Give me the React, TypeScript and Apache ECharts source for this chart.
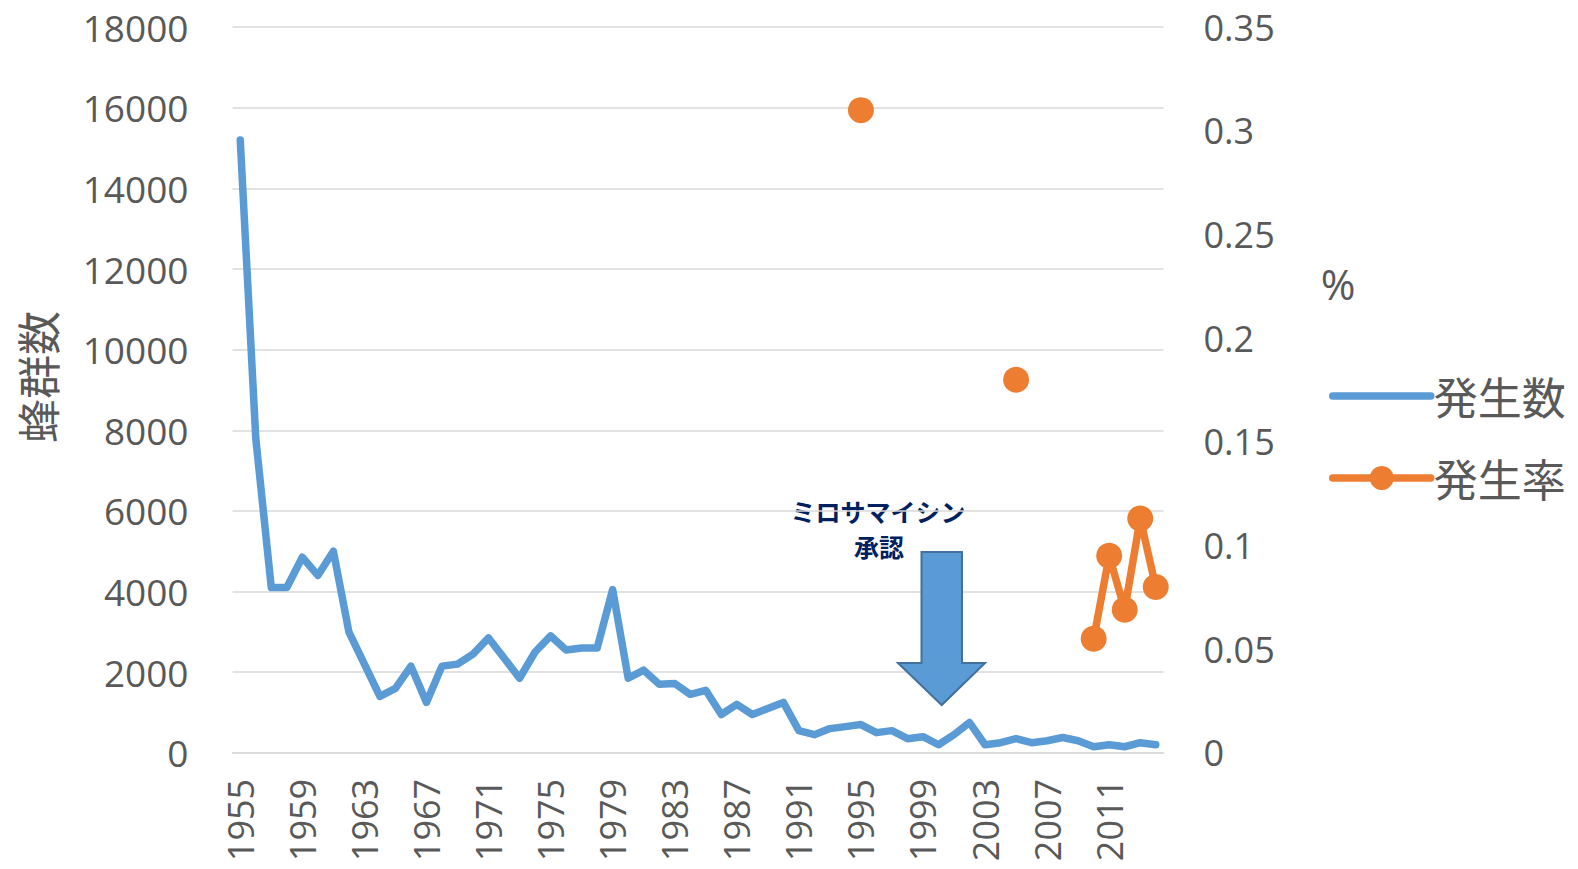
import React, { useEffect, useRef } from "react";
import * as echarts from "echarts";

const years: string[] = [
  "1955","1956","1957","1958","1959","1960","1961","1962","1963","1964",
  "1965","1966","1967","1968","1969","1970","1971","1972","1973","1974",
  "1975","1976","1977","1978","1979","1980","1981","1982","1983","1984",
  "1985","1986","1987","1988","1989","1990","1991","1992","1993","1994",
  "1995","1996","1997","1998","1999","2000","2001","2002","2003","2004",
  "2005","2006","2007","2008","2009","2010","2011","2012","2013","2014",
];

const occurrenceCount: number[] = [
  15200, 7800, 4100, 4100, 4850, 4400, 5000, 3000, 2200, 1400,
  1600, 2150, 1250, 2150, 2200, 2450, 2850, 2350, 1850, 2500,
  2900, 2550, 2600, 2600, 4050, 1850, 2050, 1700, 1720, 1450,
  1550, 950, 1200, 950, 1100, 1250, 550, 450, 600, 650,
  700, 500, 550, 350, 400, 200, 450, 750, 200, 250,
  350, 250, 300, 380, 300, 150, 200, 150, 250, 200,
];

const rateYears: string[] = ["1995", "2005", "2010", "2011", "2012", "2013", "2014"];
const rateValues: number[] = [0.31, 0.18, 0.055, 0.095, 0.069, 0.113, 0.08];

const seriesNames = ["発生数", "発生率"];
const leftAxisName = "蜂群数";
const rightAxisName = "%";
const annotationLines = ["ミロサマイシン", "承認"];

const GRAY = "#595959";
const BLUE = "#5B9BD5";
const ORANGE = "#ED7D31";
const NUM_FONT = "'Open Sans', 'Noto Sans', sans-serif";
const JP_FONT = "'Noto Sans CJK JP', sans-serif";

export default function App() {
  const ref = useRef<HTMLDivElement>(null);

  useEffect(() => {
    if (!ref.current) return;
    const chart = echarts.init(ref.current, undefined, { renderer: "svg" });

    const rateData = years.map((y) => {
      const i = rateYears.indexOf(y);
      return i >= 0 ? rateValues[i] : null;
    });

    const option: any = {
      animation: false,
      backgroundColor: "#ffffff",
      grid: { left: 232.5, right: 414.5, top: 27.2, bottom: 116.2, containLabel: false },
      legend: {
        orient: "vertical",
        left: 1324,
        top: 369,
        itemWidth: 98,
        itemHeight: 30,
        itemGap: 38,
        lineStyle: { width: 7.5, cap: "round" },
        textStyle: { fontSize: 44, color: GRAY, fontFamily: JP_FONT, padding: [0, 0, 0, -2] },
        data: [
          { name: seriesNames[0], itemStyle: { opacity: 0 }, lineStyle: { width: 7.5, color: BLUE, cap: "round" } },
          { name: seriesNames[1], lineStyle: { width: 7.5, color: ORANGE, cap: "round" } },
        ],
      },
      xAxis: {
        type: "category",
        data: years,
        boundaryGap: true,
        axisLine: { lineStyle: { color: "#D9D9D9", width: 1.5 } },
        axisTick: { show: false },
        axisLabel: {
          interval: 3,
          rotate: 90,
          margin: 26,
          fontSize: 36,
          color: GRAY,
          fontFamily: NUM_FONT,
        },
      },
      yAxis: [
        {
          type: "value",
          min: 0,
          max: 18000,
          interval: 2000,
          axisLine: { show: false },
          axisTick: { show: false },
          splitLine: { lineStyle: { color: "#D9D9D9", width: 1.5 } },
          axisLabel: {
            margin: 44,
            fontSize: 37,
            color: GRAY,
            fontFamily: NUM_FONT,
            formatter: (v: number) => String(v),
          },
        },
        {
          type: "value",
          min: 0,
          max: 0.35,
          interval: 0.05,
          axisLine: { show: false },
          axisTick: { show: false },
          splitLine: { show: false },
          axisLabel: {
            margin: 40,
            fontSize: 36,
            color: GRAY,
            fontFamily: NUM_FONT,
            formatter: (v: number) => String(Math.round(v * 100) / 100),
          },
        },
      ],
      series: [
        {
          name: seriesNames[0],
          type: "line",
          data: occurrenceCount,
          yAxisIndex: 0,
          symbol: "none",
          z: 2,
          lineStyle: { color: BLUE, width: 7.5, cap: "round", join: "round" },
          itemStyle: { color: BLUE },
        },
        {
          name: seriesNames[1],
          type: "line",
          data: rateData,
          yAxisIndex: 1,
          connectNulls: false,
          symbol: "circle",
          symbolSize: 26,
          showSymbol: true,
          showAllSymbol: true,
          z: 3,
          lineStyle: { color: ORANGE, width: 7.5, cap: "round", join: "round" },
          itemStyle: { color: ORANGE },
        },
      ],
      graphic: [
        {
          type: "text",
          x: 37,
          y: 377,
          rotation: Math.PI / 2,
          style: {
            text: leftAxisName,
            fontSize: 44,
            fill: GRAY,
            fontFamily: JP_FONT,
            textAlign: "center",
            textVerticalAlign: "middle",
          },
        },
        {
          type: "text",
          x: 1338,
          y: 283,
          style: {
            text: rightAxisName,
            fontSize: 42,
            fill: GRAY,
            fontFamily: NUM_FONT,
            textAlign: "center",
            textVerticalAlign: "middle",
          },
        },
        {
          type: "text",
          x: 878,
          y: 511,
          style: {
            text: annotationLines[0],
            fontSize: 25,
            fontWeight: "bold",
            fill: "#002060",
            fontFamily: JP_FONT,
            textAlign: "center",
            textVerticalAlign: "middle",
          },
        },
        {
          type: "text",
          x: 879,
          y: 546,
          style: {
            text: annotationLines[1],
            fontSize: 25,
            fontWeight: "bold",
            fill: "#002060",
            fontFamily: JP_FONT,
            textAlign: "center",
            textVerticalAlign: "middle",
          },
        },
        {
          type: "polygon",
          z: 10,
          shape: {
            points: [
              [921.5, 552],
              [962, 552],
              [962, 663],
              [985, 663],
              [941.7, 705],
              [898, 663],
              [921.5, 663],
            ],
          },
          style: { fill: BLUE, stroke: "#41719C", lineWidth: 2 },
        },
      ],
    };

    chart.setOption(option);
    return () => chart.dispose();
  }, []);

  return (
    <div
      ref={ref}
      style={{ position: "absolute", left: 0, top: 0, width: 1578, height: 869, background: "#fff" }}
    />
  );
}
